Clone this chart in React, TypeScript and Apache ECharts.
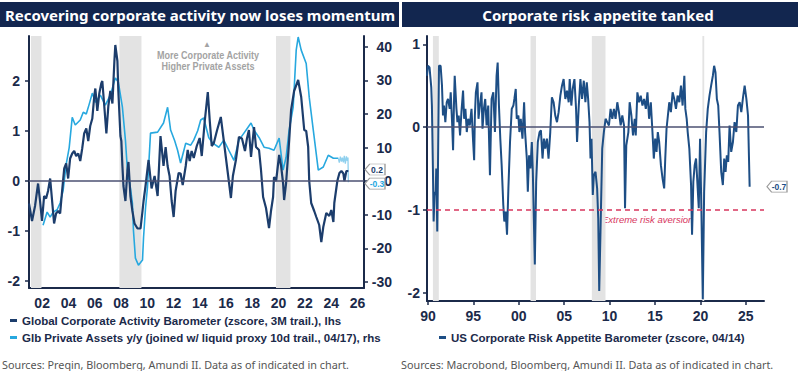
import React, { useEffect, useRef } from "react";
import * as echarts from "echarts";

// ---------- Left chart data ----------
const activityYears = [2001.0, 2001.23, 2001.46, 2001.69, 2001.84, 2001.99, 2002.15, 2002.3, 2002.45, 2002.61, 2002.76, 2002.91, 2003.06, 2003.22, 2003.37, 2003.52, 2003.68, 2003.83, 2003.98, 2004.13, 2004.29, 2004.44, 2004.59, 2004.75, 2004.9, 2005.05, 2005.2, 2005.36, 2005.51, 2005.66, 2005.82, 2005.97, 2006.05, 2006.2, 2006.35, 2006.5, 2006.58, 2006.73, 2006.89, 2007.04, 2007.19, 2007.35, 2007.5, 2007.57, 2007.73, 2007.8, 2007.96, 2008.03, 2008.11, 2008.19, 2008.34, 2008.49, 2008.57, 2008.72, 2008.87, 2009.03, 2009.26, 2009.49, 2009.64, 2009.72, 2009.87, 2010.1, 2010.33, 2010.56, 2010.79, 2011.01, 2011.24, 2011.4, 2011.55, 2011.7, 2011.86, 2012.01, 2012.16, 2012.39, 2012.54, 2012.7, 2012.93, 2013.08, 2013.23, 2013.38, 2013.54, 2013.77, 2013.99, 2014.15, 2014.38, 2014.61, 2014.76, 2014.91, 2015.07, 2015.3, 2015.6, 2015.83, 2015.98, 2016.21, 2016.37, 2016.52, 2016.75, 2016.98, 2017.21, 2017.44, 2017.59, 2017.74, 2017.9, 2018.13, 2018.28, 2018.51, 2018.66, 2018.82, 2019.04, 2019.27, 2019.42, 2019.58, 2019.65, 2019.81, 2020.04, 2020.19, 2020.34, 2020.42, 2020.57, 2020.8, 2020.95, 2021.18, 2021.49, 2021.72, 2021.95, 2022.1, 2022.25, 2022.33, 2022.48, 2022.71, 2022.87, 2023.09, 2023.25, 2023.4, 2023.63, 2023.86, 2024.01, 2024.17, 2024.24, 2024.47, 2024.63, 2024.78, 2024.93, 2025.01, 2025.16, 2025.31];
const activityValues = [-0.45, -0.8, -0.5, -0.05, -0.4, -0.8, -0.3, -0.35, -0.2, 0.05, -0.4, -0.85, -0.65, -0.6, -0.65, -0.2, 0.25, 0.35, 0.05, 0.45, 0.55, 0.6, 0.5, 0.55, 0.4, 0.65, 0.95, 1.05, 0.8, 1.1, 1.25, 1.7, 1.85, 1.4, 1.75, 1.95, 2.0, 1.5, 0.95, 1.5, 1.8, 1.55, 2.4, 2.72, 2.4, 1.8, 0.9, 0.8, 0.3, -0.1, -0.4, 0.2, 0.38, -0.3, -0.6, -0.85, -0.95, -0.95, -0.6, -0.4, -0.1, 0.42, -0.15, 0.1, -0.3, 0.9, 0.3, 0.68, 0.3, 0.1, -0.4, -0.72, -0.2, 0.16, 0.15, -0.08, 0.3, 0.62, 0.4, 0.6, 0.46, 0.7, 0.86, 0.5, 1.2, 1.78, 1.2, 0.7, 0.76, 1.0, 1.28, 0.8, 0.48, 0.0, -0.34, 0.1, 0.42, 0.88, 0.85, 0.6, 0.85, 1.02, 0.48, 1.08, 0.68, 0.62, 0.22, -0.32, -0.54, -0.94, -0.6, -0.32, 0.08, 0.0, 0.52, 0.3, -0.04, -0.38, -0.04, 0.8, 1.42, 1.8, 2.02, 1.68, 1.02, 1.0, 0.68, 0.0, -0.44, -0.6, -0.72, -0.88, -1.22, -0.92, -0.64, -0.7, -0.58, -0.82, -0.44, 0.0, 0.16, 0.2, 0.15, 0.0, 0.2, 0.2];

const privateYears = [2002.07, 2002.38, 2002.61, 2002.84, 2003.14, 2003.37, 2003.6, 2003.83, 2004.06, 2004.29, 2004.52, 2004.9, 2005.13, 2005.36, 2005.59, 2005.82, 2006.05, 2006.43, 2006.81, 2007.19, 2007.57, 2007.8, 2008.11, 2008.34, 2008.49, 2008.72, 2008.87, 2008.95, 2009.1, 2009.33, 2009.64, 2009.72, 2009.87, 2010.02, 2010.25, 2010.79, 2011.24, 2011.55, 2011.78, 2012.09, 2012.31, 2012.54, 2012.93, 2013.31, 2013.54, 2013.84, 2014.07, 2014.3, 2014.68, 2014.99, 2015.45, 2015.83, 2016.21, 2016.6, 2016.98, 2017.36, 2017.9, 2018.13, 2018.51, 2018.89, 2019.27, 2019.65, 2020.04, 2020.34, 2020.57, 2020.8, 2021.11, 2021.34, 2021.49, 2021.72, 2022.1, 2022.33, 2022.64, 2023.02, 2023.4, 2023.78, 2024.17, 2024.55];
const privateValues = [-13.1, -9.2, -10.7, -9.2, -8.5, -6.5, -2.7, 5.0, 10.0, 19.0, 16.7, 18.2, 20.5, 20.0, 23.0, 26.2, 23.5, 25.6, 22.6, 25.6, 30.7, 29.5, 22.0, 12.2, 3.3, -2.0, -6.5, -14.6, -22.9, -25.0, -23.5, -16.7, -8.0, -1.8, 14.3, 14.6, 17.3, 22.0, 15.2, 12.0, 9.2, 5.4, 11.3, 10.7, 12.2, 15.0, 18.2, 18.8, 13.0, 11.3, 10.1, 12.2, 9.2, 6.2, 12.2, 14.3, 17.3, 15.2, 13.0, 10.1, 9.8, 9.2, 12.8, 3.3, 7.1, 15.2, 22.0, 39.0, 42.9, 39.0, 35.0, 25.0, 15.2, 3.3, 4.2, 7.7, 6.8, 6.8];

const proxyYears = [2024.55, 2024.62, 2024.7, 2024.78, 2024.85, 2024.93, 2025.0, 2025.08, 2025.16, 2025.23, 2025.28, 2025.31];
const proxyValues = [6.8, 5.5, 7.3, 5.8, 7.0, 5.6, 7.5, 5.2, 7.4, 6.0, 7.0, -0.3];

const leftRecessions = [[2001.15, 2001.95], [2007.88, 2009.56], [2019.8, 2020.9]];
const leftXTicks = [2002, 2004, 2006, 2008, 2010, 2012, 2014, 2016, 2018, 2020, 2022, 2024, 2026];
const lhsTicks = [-2, -1, 0, 1, 2];
const rhsTicks = [-30, -20, -10, 0, 10, 20, 30, 40];

// ---------- Right chart data ----------
const riskYears = [1989.9, 1990.0, 1990.18, 1990.37, 1990.44, 1990.55, 1990.63, 1990.74, 1990.85, 1990.92, 1991.03, 1991.11, 1991.22, 1991.4, 1991.55, 1991.66, 1991.77, 1991.92, 1992.07, 1992.21, 1992.4, 1992.51, 1992.66, 1992.77, 1992.88, 1992.95, 1993.14, 1993.25, 1993.39, 1993.54, 1993.69, 1993.87, 1993.99, 1994.13, 1994.28, 1994.43, 1994.61, 1994.8, 1994.98, 1995.09, 1995.17, 1995.28, 1995.46, 1995.57, 1995.72, 1995.9, 1996.01, 1996.16, 1996.31, 1996.46, 1996.64, 1996.83, 1997.01, 1997.2, 1997.38, 1997.56, 1997.68, 1997.82, 1997.97, 1998.12, 1998.3, 1998.41, 1998.56, 1998.71, 1998.86, 1999.04, 1999.23, 1999.41, 1999.52, 1999.67, 1999.78, 1999.96, 2000.07, 2000.22, 2000.41, 2000.59, 2000.7, 2000.89, 2001.0, 2001.14, 2001.29, 2001.44, 2001.55, 2001.66, 2001.77, 2001.92, 2002.1, 2002.29, 2002.44, 2002.62, 2002.77, 2002.92, 2003.1, 2003.28, 2003.47, 2003.65, 2003.84, 2004.02, 2004.21, 2004.39, 2004.58, 2004.76, 2004.94, 2005.13, 2005.31, 2005.5, 2005.61, 2005.79, 2005.94, 2006.13, 2006.31, 2006.42, 2006.61, 2006.79, 2006.97, 2007.16, 2007.34, 2007.49, 2007.64, 2007.79, 2007.9, 2008.01, 2008.15, 2008.27, 2008.45, 2008.63, 2008.75, 2008.86, 2009.0, 2009.19, 2009.37, 2009.56, 2009.74, 2009.93, 2010.11, 2010.3, 2010.48, 2010.66, 2010.85, 2011.03, 2011.22, 2011.4, 2011.59, 2011.7, 2011.84, 2012.07, 2012.21, 2012.4, 2012.58, 2012.77, 2012.88, 2013.06, 2013.25, 2013.43, 2013.62, 2013.8, 2013.99, 2014.17, 2014.35, 2014.54, 2014.72, 2014.87, 2015.02, 2015.17, 2015.31, 2015.46, 2015.65, 2015.83, 2016.01, 2016.13, 2016.27, 2016.42, 2016.57, 2016.75, 2016.94, 2017.12, 2017.31, 2017.49, 2017.68, 2017.86, 2018.04, 2018.23, 2018.34, 2018.49, 2018.6, 2018.78, 2018.97, 2019.08, 2019.22, 2019.37, 2019.52, 2019.7, 2019.82, 2019.96, 2020.11, 2020.26, 2020.41, 2020.63, 2020.81, 2021.0, 2021.18, 2021.37, 2021.51, 2021.66, 2021.81, 2021.96, 2022.1, 2022.29, 2022.47, 2022.62, 2022.77, 2022.91, 2023.06, 2023.21, 2023.39, 2023.58, 2023.76, 2023.95, 2024.13, 2024.32, 2024.5, 2024.69, 2024.87, 2025.06, 2025.24, 2025.42];
const riskValues = [0.62, 0.74, 0.72, 0.48, 0.26, -0.5, -1.14, -0.78, -0.82, -0.5, -1.26, -0.46, 0.74, 0.74, 0.5, 0.14, 0.26, 0.06, 0.3, 0.34, 0.22, 0.42, 0.06, -0.28, 0.34, 0.62, 0.22, 0.06, 0.14, -0.1, 0.18, 0.44, 0.1, 0.22, -0.06, 0.1, 0.02, 0.22, -0.18, -0.4, 0.14, 0.42, 0.54, 0.1, 0.26, 0.42, -0.02, 0.22, 0.34, 0.02, 0.26, -0.58, 0.34, 0.42, -0.06, 0.62, 0.78, 0.26, -0.14, -0.46, -0.94, -1.14, -1.02, -1.3, -0.74, -0.18, 0.22, 0.26, 0.34, 0.46, 0.1, 0.14, -0.06, 0.1, -0.14, 0.3, -0.06, -0.38, -0.78, -0.34, -0.5, -0.18, -0.54, -1.1, -1.66, -0.66, -0.18, -0.06, -0.04, -0.38, -0.14, -0.26, -0.14, -0.38, -0.06, 0.36, 0.3, 0.14, 0.06, 0.18, 0.38, 0.5, 0.58, 0.34, 0.44, 0.3, 0.58, 0.26, 0.46, 0.58, 0.22, -0.18, 0.26, 0.58, 0.34, 0.56, 0.3, 0.54, 0.34, 0.06, -0.38, -0.14, -0.82, -0.58, -0.54, -0.74, -1.1, -1.98, -1.26, -0.26, -0.06, 0.1, 0.06, 0.02, 0.22, 0.1, 0.22, 0.1, 0.3, 0.18, 0.02, 0.14, 0.02, -0.98, -0.22, -0.06, 0.3, 0.14, -0.1, 0.1, -0.1, 0.42, 0.3, 0.38, 0.26, 0.34, 0.22, 0.42, 0.1, 0.3, -0.06, -0.38, -0.14, -0.3, -0.06, -0.18, -0.46, -0.62, -0.74, -0.38, -0.02, 0.14, 0.3, 0.18, 0.42, 0.34, 0.22, 0.38, 0.3, 0.5, 0.26, 0.62, 0.22, 0.1, -0.06, -0.26, -0.7, -1.3, -0.66, -0.46, -0.38, -0.74, -0.98, -0.14, -1.02, -2.08, -0.78, -0.06, 0.22, 0.38, 0.5, 0.62, 0.74, 0.66, 0.34, 0.26, -0.06, -0.54, -0.7, -0.38, -0.54, -0.34, -0.42, 0.02, -0.3, -0.18, 0.06, -0.06, 0.26, 0.3, 0.18, 0.36, 0.5, 0.34, 0.14, -0.72];

const rightRecessions = [[1990.55, 1991.2], [2001.3, 2001.9], [2008.05, 2009.55], [2020.22, 2020.42]];
const rightXTicks = [1990, 1995, 2000, 2005, 2010, 2015, 2020, 2025];
const riskTicks = [-2, -1, 0, 1];

const NAME_ACT = "Global Corporate Activity Barometer (zscore, 3M trail.), lhs";
const NAME_PRIV = "Glb Private Assets y/y (joined w/ liquid proxy 10d trail., 04/17), rhs";
const NAME_PROXY = "Glb Private Assets proxy";
const NAME_RISK = "US Corporate Risk Appetite Barometer (zscore, 04/14)";

const NAVY = "#1b2a4a";
const DARK = "#1c3d6c";
const LIGHT = "#27a8df";
const RISK = "#1d4e85";
const AXIS_FONT = "'Liberation Sans', Arial, sans-serif";

const zip = (xs: number[], ys: number[]) => xs.map((x, i) => [x, ys[i]]);
const twoDigit = (v: number) => String(Math.round(v)).slice(2);

const tagPath = "path://M0,6 L6,0 L26,0 L26,12 L6,12 Z";
const tag = (x: number, y: number, color: string, offsetX: number, offsetY: number) => ({
  symbol: tagPath,
  symbolSize: [20, 11],
  symbolOffset: [offsetX, offsetY],
  itemStyle: { color: "#ffffff", borderColor: "#9a9a9a", borderWidth: 1 },
  label: {
    show: true,
    position: "inside",
    offset: [2, 0],
    color,
    fontSize: 8.5,
    fontWeight: "bold",
    fontFamily: AXIS_FONT,
    formatter: (p: any) => Number(p.value).toFixed(1),
  },
  data: [{ coord: [x, y], value: y }],
});

function buildOption() {
  const axisLabel = { color: NAVY, fontWeight: "bold", fontSize: 14, fontFamily: AXIS_FONT };
  const axisLine = { show: true, onZero: false, lineStyle: { color: NAVY, width: 2 } };
  const tickStyle = { color: NAVY, width: 1.5 };
  const lastAct = activityValues[activityValues.length - 1];
  const lastProxy = proxyValues[proxyValues.length - 1];
  const lastRisk = riskValues[riskValues.length - 1];
  const legendText = { color: NAVY, fontWeight: "bold", fontSize: 11.5, fontFamily: AXIS_FONT, lineHeight: 13 };

  return {
    animation: false,
    backgroundColor: "#ffffff",
    grid: [
      { left: 29, right: 436, top: 36, bottom: 83 },
      { left: 427, right: 36, top: 36, bottom: 70 },
    ],
    xAxis: [
      {
        type: "value", gridIndex: 0, min: 2001, max: 2026.5,
        axisLine, axisTick: { show: false }, splitLine: { show: false },
        axisLabel: { ...axisLabel, margin: 8, customValues: leftXTicks, formatter: twoDigit },
      },
      {
        type: "value", gridIndex: 1, min: 1989.9, max: 2027,
        axisLine,
        axisTick: { show: true, length: 4, customValues: rightXTicks, lineStyle: tickStyle },
        splitLine: { show: false },
        axisLabel: { ...axisLabel, margin: 8, customValues: rightXTicks, formatter: twoDigit },
      },
    ],
    yAxis: [
      {
        type: "value", gridIndex: 0, position: "left", min: -2.14, max: 2.9,
        axisLine, axisTick: { show: true, length: 4, customValues: lhsTicks, lineStyle: tickStyle },
        splitLine: { show: false },
        axisLabel: { ...axisLabel, margin: 9, customValues: lhsTicks },
      },
      {
        type: "value", gridIndex: 0, position: "right", min: -31.8, max: 43.2,
        axisLine, axisTick: { show: true, length: 4, customValues: rhsTicks, lineStyle: tickStyle },
        splitLine: { show: false },
        axisLabel: { ...axisLabel, margin: 28, align: "right", customValues: rhsTicks },
      },
      {
        type: "value", gridIndex: 1, position: "left", min: -2.1, max: 1.1,
        axisLine, axisTick: { show: true, length: 4, customValues: riskTicks, lineStyle: tickStyle },
        splitLine: { show: false },
        axisLabel: { ...axisLabel, margin: 7, customValues: riskTicks },
      },
    ],
    legend: [
      {
        data: [NAME_ACT, NAME_PRIV],
        orient: "vertical", left: 10, top: 314, padding: 0, itemGap: 4,
        icon: "rect", itemWidth: 7, itemHeight: 3,
        textStyle: legendText,
      },
      {
        data: [NAME_RISK],
        orient: "vertical", left: 439, top: 331, padding: 0,
        icon: "rect", itemWidth: 7, itemHeight: 3,
        textStyle: legendText,
      },
    ],
    series: [
      {
        name: "leftShade", type: "line", xAxisIndex: 0, yAxisIndex: 0, data: [], z: 1,
        markArea: { silent: true, itemStyle: { color: "#e3e3e3" }, data: leftRecessions.map(([a, b]) => [{ xAxis: a }, { xAxis: b }]) },
        markLine: { silent: true, symbol: "none", label: { show: false }, lineStyle: { color: "#4b5172", width: 1.5, type: "solid" }, data: [{ yAxis: 0 }] },
      },
      {
        name: NAME_PRIV, type: "line", xAxisIndex: 0, yAxisIndex: 1, z: 3,
        data: zip(privateYears, privateValues), showSymbol: false,
        lineStyle: { color: LIGHT, width: 1.6 }, itemStyle: { color: LIGHT },
      },
      {
        name: NAME_PROXY, type: "line", xAxisIndex: 0, yAxisIndex: 1, z: 3,
        data: zip(proxyYears, proxyValues), showSymbol: false,
        lineStyle: { color: "#8fd0ee", width: 1.3 }, itemStyle: { color: "#8fd0ee" },
        markPoint: tag(2026.5, lastProxy, LIGHT, 11, 1.5),
      },
      {
        name: NAME_ACT, type: "line", xAxisIndex: 0, yAxisIndex: 0, z: 4,
        data: zip(activityYears, activityValues), showSymbol: false,
        lineStyle: { color: DARK, width: 2.2 }, itemStyle: { color: DARK },
        markPoint: tag(2026.5, lastAct, DARK, 11, -1.5),
      },
      {
        name: "rightShade", type: "line", xAxisIndex: 1, yAxisIndex: 2, data: [], z: 1,
        markArea: { silent: true, itemStyle: { color: "#e3e3e3" }, data: rightRecessions.map(([a, b]) => [{ xAxis: a }, { xAxis: b }]) },
        markLine: {
          silent: true, symbol: "none", label: { show: false },
          data: [
            { yAxis: 0, lineStyle: { color: "#4b5172", width: 1.5, type: "solid" } },
            { yAxis: -1, lineStyle: { color: "#d8365e", width: 1.5, type: [5, 4] } },
          ],
        },
      },
      {
        name: NAME_RISK, type: "line", xAxisIndex: 1, yAxisIndex: 2, z: 4,
        data: zip(riskYears, riskValues), showSymbol: false,
        lineStyle: { color: RISK, width: 2 }, itemStyle: { color: RISK },
        markPoint: tag(2027, lastRisk, RISK, 13, 0),
      },
    ],
    graphic: [
      { type: "rect", shape: { x: 0, y: 2, width: 399, height: 25 }, style: { fill: "#12264f" } },
      { type: "rect", shape: { x: 402, y: 2, width: 396, height: 25 }, style: { fill: "#12264f" } },
      {
        type: "text", x: 200, y: 15,
        style: { text: "Recovering corporate activity now loses momentum", fill: "#ffffff", fontSize: 15, fontWeight: "bold", fontFamily: "'Noto Sans', sans-serif", align: "center", verticalAlign: "middle" },
      },
      {
        type: "text", x: 598, y: 15,
        style: { text: "Corporate risk appetite tanked", fill: "#ffffff", fontSize: 15, fontWeight: "bold", fontFamily: "'Noto Sans', sans-serif", align: "center", verticalAlign: "middle" },
      },
      {
        type: "text", x: 207, y: 44,
        style: { text: "▲", fill: "#a3a3a3", fontSize: 8, fontFamily: AXIS_FONT, align: "center", verticalAlign: "middle" },
      },
      {
        type: "text", x: 208, y: 55, scaleX: 0.86,
        style: { text: "More Corporate Activity", fill: "#a3a3a3", fontSize: 10.5, fontWeight: "bold", fontFamily: AXIS_FONT, align: "center", verticalAlign: "middle" },
      },
      {
        type: "text", x: 208, y: 66, scaleX: 0.86,
        style: { text: "Higher Private Assets", fill: "#a3a3a3", fontSize: 10.5, fontWeight: "bold", fontFamily: AXIS_FONT, align: "center", verticalAlign: "middle" },
      },
      {
        type: "text", x: 602, y: 219,
        style: { text: "Extreme risk aversion", fill: "#d8365e", fontSize: 9.5, fontStyle: "italic", fontFamily: AXIS_FONT, align: "left", verticalAlign: "middle" },
      },
      {
        type: "text", x: 2, y: 364,
        style: { text: "Sources: Preqin, Bloomberg, Amundi II. Data as of indicated in chart.", fill: "#555555", fontSize: 10.8, fontFamily: "'Noto Sans', sans-serif", align: "left", verticalAlign: "middle" },
      },
      {
        type: "text", x: 401, y: 364,
        style: { text: "Sources: Macrobond, Bloomberg, Amundi II. Data as of indicated in chart.", fill: "#555555", fontSize: 10.8, fontFamily: "'Noto Sans', sans-serif", align: "left", verticalAlign: "middle" },
      },
    ],
  };
}

export default function App() {
  const ref = useRef<HTMLDivElement>(null);
  useEffect(() => {
    if (!ref.current) return;
    const chart = echarts.init(ref.current, undefined, { renderer: "svg" });
    chart.setOption(buildOption() as any);
    return () => chart.dispose();
  }, []);
  return (
    <div
      ref={ref}
      style={{ position: "fixed", left: 0, top: 0, width: 800, height: 371, background: "#ffffff" }}
    />
  );
}
